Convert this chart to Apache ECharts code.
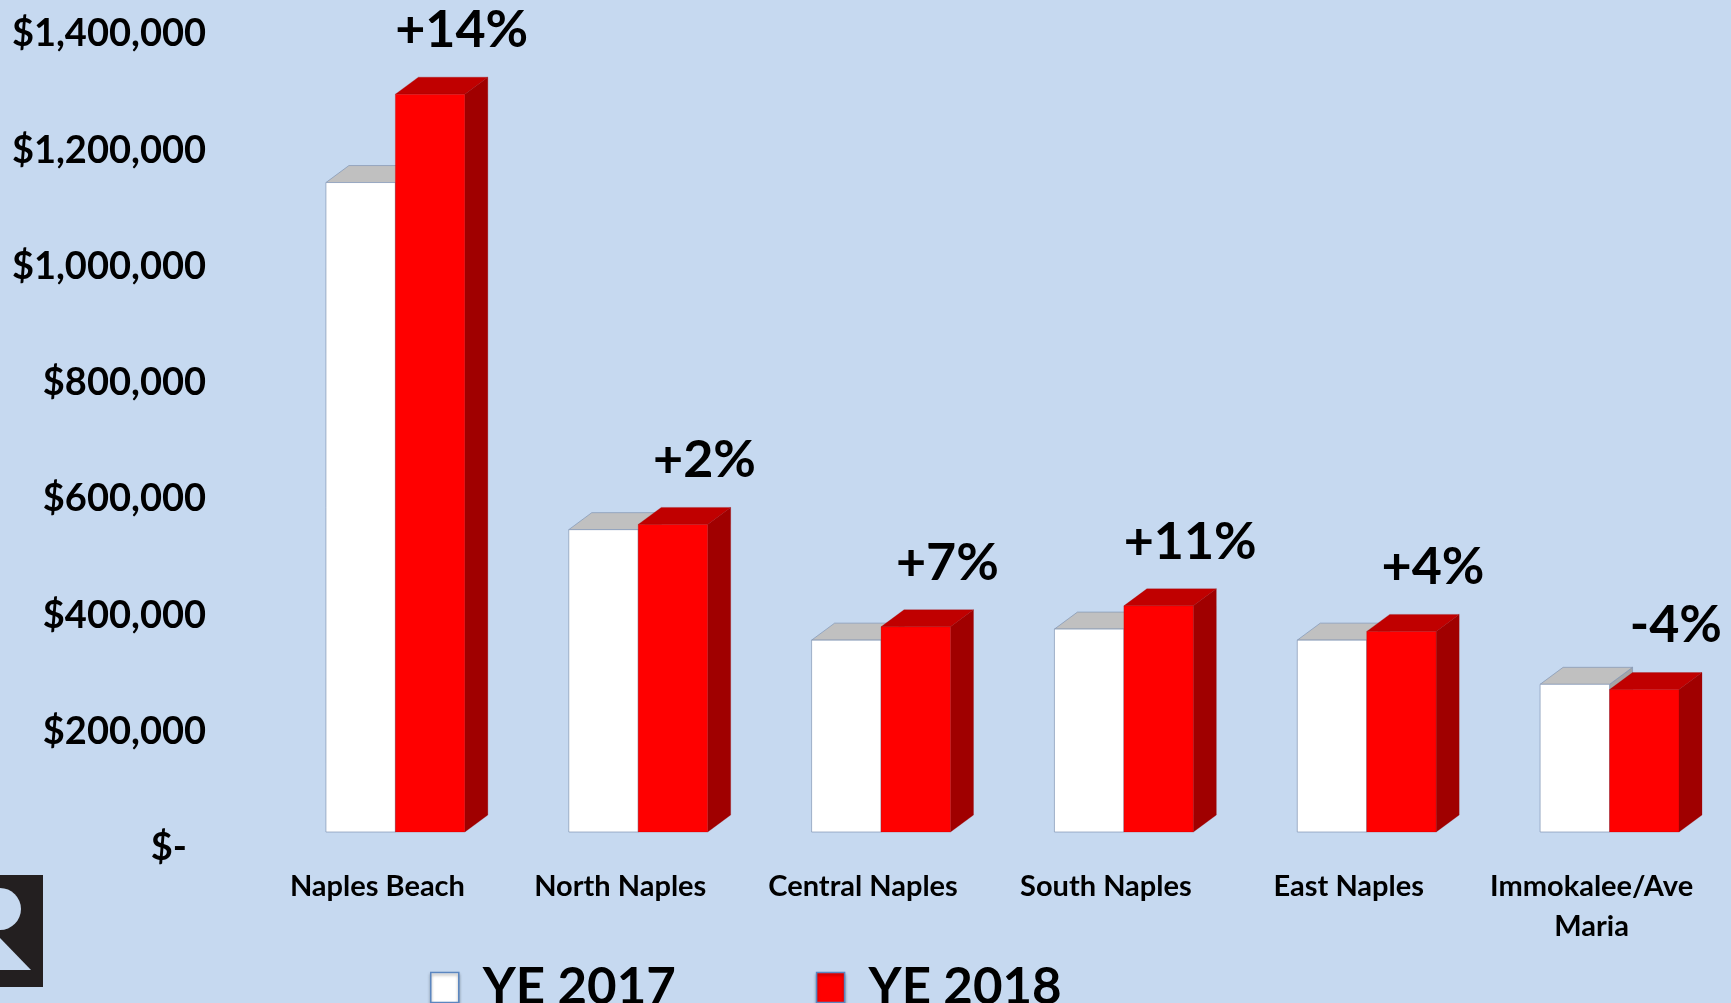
<!DOCTYPE html>
<html>
<head>
<meta charset="utf-8">
<script src="https://cdn.jsdelivr.net/npm/echarts@6/dist/echarts.min.js"></script>
<style>
  html, body { margin: 0; padding: 0; background: #c6d9f0; }
  #chart { width: 1731px; height: 1003px; }
</style>
</head>
<body>
<div id="chart"></div>
<script>
// 区域
const areas = ['Naples Beach', 'North Naples', 'Central Naples', 'South Naples', 'East Naples', 'Immokalee/Ave\nMaria']
// 年末中位价
const ye2017 = [1117000, 520000, 330000, 349000, 330000, 254000]
const ye2018 = [1269000, 529000, 353000, 389000, 345000, 245000]
// 涨跌幅标签
const changeLabels = ['+14%', '+2%', '+7%', '+11%', '+4%', '-4%']
const yTicks = { min: 0, max: 1400000, interval: 200000 }

const FONT = 'Lato, "Open Sans", sans-serif'
// 立体柱子的样式
const DX = 23, DY = 17, LIFT = 16
const faces = [
  { front: '#ffffff', top: '#c0c0c0', side: '#a6a6a6', stroke: 'rgba(130,150,180,0.7)' },
  { front: '#ff0000', top: '#c00000', side: '#a00000', stroke: 'rgba(150,0,0,0.25)' }
]

/**
  * 3D柱
  * @param {Number} s 系列序号
*/
const makeRender = (s) => (params, api) => {
  const idx = api.value(0)
  const val = api.value(1)
  const base = api.coord([idx, 0])
  const top = api.coord([idx, val])
  const bw = api.size([1, 0])[0]
  const w = bw * 0.286
  const x = base[0] - bw * 0.212 + s * w
  const yB = base[1] - LIFT
  const yT = top[1] - LIFT
  const f = faces[s]
  const children = [
    {
      type: 'polygon',
      shape: { points: [[x + w, yT], [x + w + DX, yT - DY], [x + w + DX, yB - DY], [x + w, yB]] },
      style: { fill: f.side, stroke: f.stroke, lineWidth: 1 }
    },
    {
      type: 'polygon',
      shape: { points: [[x, yT], [x + DX, yT - DY], [x + w + DX, yT - DY], [x + w, yT]] },
      style: { fill: f.top, stroke: f.stroke, lineWidth: 1 }
    },
    {
      type: 'rect',
      shape: { x: x, y: yT, width: w, height: yB - yT },
      style: { fill: f.front, stroke: f.stroke, lineWidth: 1 }
    }
  ]
  if (s === 1) {
    children.push({
      type: 'text',
      style: {
        text: changeLabels[params.dataIndex],
        x: x + w / 2 + bw * 0.13,
        y: yT - 64,
        align: 'center',
        verticalAlign: 'middle',
        fill: '#000',
        font: 'bold 52px ' + FONT
      }
    })
  }
  return { type: 'group', children }
}

const chart = echarts.init(document.getElementById('chart'), null, { renderer: 'canvas' })
chart.setOption({
  backgroundColor: '#c6d9f0',
  animation: false,
  grid: { left: 256, right: 18, top: 34, bottom: 155 },
  legend: {
    left: 425,
    top: 957,
    itemWidth: 28,
    itemHeight: 30,
    itemGap: 140,
    icon: 'rect',
    textStyle: { fontFamily: FONT, fontWeight: 'bold', fontSize: 51, color: '#000', lineHeight: 40, padding: [0, 0, 0, 19] },
    data: [
      { name: 'YE 2017', itemStyle: { color: '#ffffff', borderColor: '#5b86c0', borderWidth: 1.5, shadowBlur: 3, shadowColor: 'rgba(0,0,0,0.35)', shadowOffsetY: 2 } },
      { name: 'YE 2018', itemStyle: { color: '#ff0000', borderColor: '#5b86c0', borderWidth: 1.5, shadowBlur: 3, shadowColor: 'rgba(0,0,0,0.35)', shadowOffsetY: 2 } }
    ]
  },
  xAxis: {
    type: 'category',
    data: areas,
    axisLine: { show: false },
    axisTick: { show: false },
    axisLabel: {
      interval: 0,
      margin: 19,
      color: '#000',
      fontFamily: FONT,
      fontWeight: 'bold',
      fontSize: 29,
      lineHeight: 40,
      align: 'center'
    }
  },
  yAxis: {
    type: 'value',
    min: yTicks.min,
    max: yTicks.max,
    interval: yTicks.interval,
    splitLine: { show: false },
    axisLine: { show: false },
    axisTick: { show: false },
    axisLabel: {
      margin: 50,
      color: '#000',
      fontFamily: FONT,
      fontWeight: 'bold',
      fontSize: 38,
      formatter: (v) => v === 0 ? '{z|$-}' : '$' + v.toLocaleString('en-US'),
      rich: {
        z: { fontFamily: FONT, fontWeight: 'bold', fontSize: 38, color: '#000', padding: [0, 19, 0, 0] }
      }
    }
  },
  series: [
    {
      name: 'YE 2017',
      type: 'custom',
      itemStyle: { color: '#ffffff' },
      renderItem: makeRender(0),
      encode: { x: 0, y: 1 },
      data: ye2017.map((v, i) => [i, v])
    },
    {
      name: 'YE 2018',
      type: 'custom',
      itemStyle: { color: '#ff0000' },
      renderItem: makeRender(1),
      encode: { x: 0, y: 1 },
      data: ye2018.map((v, i) => [i, v])
    }
  ],
  graphic: [
    // 左下角logo
    { type: 'rect', left: 0, top: 875, shape: { width: 43, height: 112 }, style: { fill: '#231f20' } },
    { type: 'circle', shape: { cx: 0, cy: 909, r: 21 }, style: { fill: '#c6d9f0' } },
    { type: 'polygon', shape: { points: [[0, 938], [31, 970], [0, 970]] }, style: { fill: '#c6d9f0' } }
  ]
})
</script>
</body>
</html>
